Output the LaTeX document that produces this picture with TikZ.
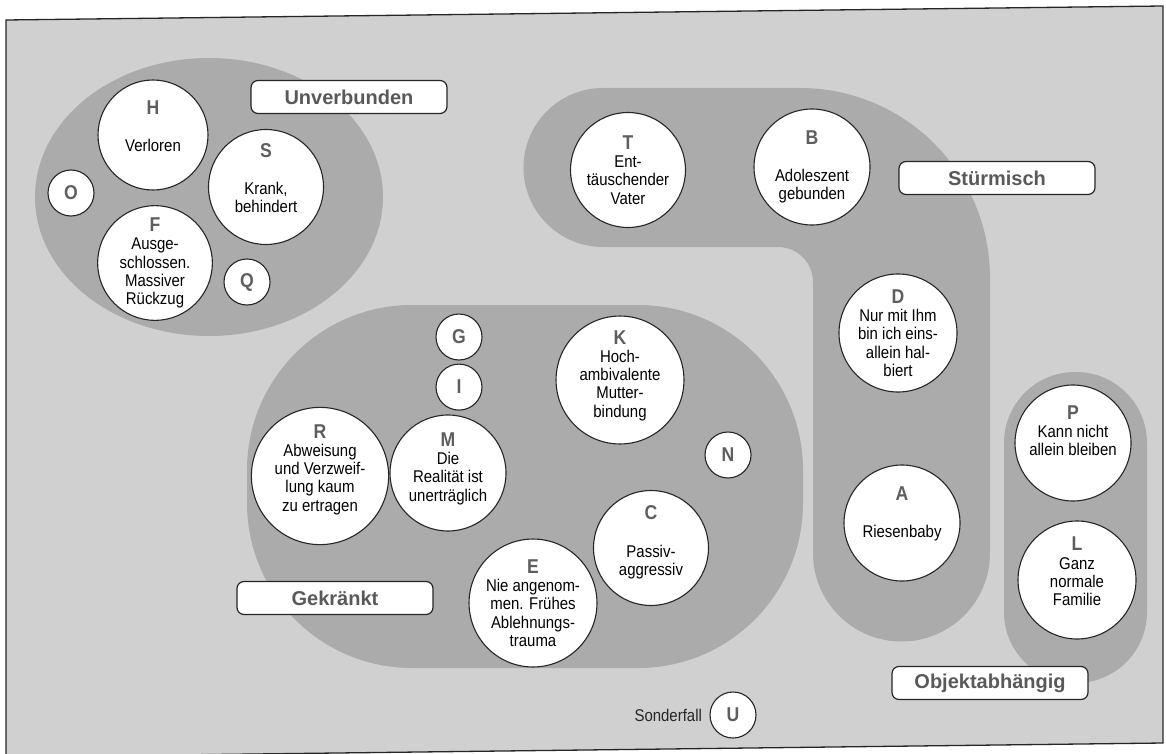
\documentclass[tikz,border=0pt]{standalone}
\usepackage{fontspec}
\setmainfont{Liberation Sans}[FakeStretch=0.88]
\newfontfamily\tagfont{Liberation Sans}
\usepackage{xcolor}
\usetikzlibrary{positioning}
\definecolor{paper}{HTML}{D0D0D0}
\definecolor{blobgray}{HTML}{ABABAB}
\definecolor{ltrgray}{HTML}{5E5E5E}
\newcommand{\ltr}[1]{{\fontsize{20}{20}\selectfont\bfseries\color{ltrgray}#1}}
\newcommand{\pad}[1]{\\[#1]\mbox{}}

\begin{document}
\begin{tikzpicture}[
    x=1pt, y=-1pt,
    blob/.style={fill=blobgray},
    disc/.style={circle, draw=black!85, line width=1.1pt, fill=white, inner sep=0pt, align=center, minimum size=114pt, font=\fontsize{17}{18.3}\selectfont},
    smalldisc/.style={disc, minimum size=46pt},
    tag/.style={rectangle, rounded corners=7pt, draw=black!85, line width=1.2pt, fill=white, minimum width=196pt, minimum height=33pt, text=black!65, font=\tagfont\bfseries\fontsize{20}{21}\selectfont}
]
\useasboundingbox (0,0) rectangle (1166,754);
\fill[white] (0,0) rectangle (1166,754);

% Frame
\fill[paper] (6,20) -- (1163,6) -- (1163,743) -- (6,757) -- cycle;
\draw[line width=1.3pt, black!85] (6,20) -- (1163,6) -- (1163,743) -- (6,757) -- cycle;

% Groups
\fill[blob] (209,197) ellipse [x radius=174, y radius=139];
\fill[blob] (603,88) -- (800,88) arc[start angle=270, end angle=360, radius=190]
    -- (990,553) arc[start angle=0, end angle=180, radius=88.5]
    -- (813,282) arc[start angle=0, end angle=-90, radius=35]
    -- (603,247) arc[start angle=90, end angle=270, radius=79.5] -- cycle;
\fill[blob, rounded corners=165pt] (247,305) rectangle (803,668);
\fill[blob, rounded corners=71pt] (1004,372) rectangle (1147,683);

% Unverbunden
\node[disc, minimum size=110pt] (H) at (153,135) {\ltr{H}\\[19pt]Verloren\pad{0pt}};
\node[disc, minimum size=115pt] (S) at (266,187) {\ltr{S}\\[19pt]Krank,\\behindert\pad{0pt}};
\node[smalldisc] (O) at (71,193) {\ltr{O}};
\node[disc, minimum size=110pt] (F) at (155,263) {\ltr{F}\\Ausge-\\schlossen.\\Massiver\\Rückzug};
\node[smalldisc] (Q) at (247,282) {\ltr{Q}};

% Stuermisch
\node[disc, minimum size=115pt] (T) at (628,170) {\ltr{T}\\Ent-\\täuschender\\Vater};
\node[disc, minimum size=116pt] (B) at (812,167) {\ltr{B}\\[19pt]Adoleszent\\gebunden};
\node[disc] (D) at (898,333) {\ltr{D}\\Nur mit Ihm\\bin ich eins-\\allein hal-\\biert};
\node[disc, minimum size=116pt] (A) at (902,523) {\ltr{A}\\[19pt]Riesenbaby\pad{3.2pt}};

% Objektabhaengig
\node[disc, minimum size=116pt] (P) at (1073,443) {\ltr{P}\\Kann nicht\\allein bleiben\pad{6.7pt}};
\node[disc, minimum size=118pt] (L) at (1077,580) {\ltr{L}\\Ganz\\normale\\Familie\pad{-1.3pt}};

% Gekraenkt
\node[smalldisc] (G) at (459,337) {\ltr{G}};
\node[smalldisc, below=3pt of G] (I) {\ltr{I}};
\node[disc, minimum size=115pt] (R) at (320,476) {\ltr{R}\\Abweisung\\und Verzweif-\\lung kaum\\zu ertragen\pad{-1.8pt}};
\node[disc, minimum size=116pt] (M) at (448,473) {\ltr{M}\\Die\\Realität ist\\unerträglich\pad{-5.8pt}};
\node[disc] (K) at (620,380) {\ltr{K}\\Hoch-\\ambivalente\\Mutter-\\bindung\pad{-5.8pt}};
\node[smalldisc] (N) at (728,455) {\ltr{N}};
\node[disc, minimum size=115pt] (C) at (651,548) {\ltr{C}\\[19pt]Passiv-\\aggressiv\pad{-3.8pt}};
\node[disc, minimum size=110pt] (E) at (533,603) {\ltr{E}\\Nie angenom-\\men. Frühes\\Ablehnungs-\\trauma};

% Sonderfall
\node[smalldisc] (U) at (733,715) {\ltr{U}};
\node[left=4pt of U, font=\fontsize{17}{18}\selectfont, text=black!85] (sonderfall) {Sonderfall};

% Labels
\node[tag] (unverbunden) at (349,97) {Unverbunden};
\node[tag] (stuermisch) at (997,178) {Stürmisch};
\node[tag] (gekraenkt) at (335,598) {Gekränkt};
\node[tag] (objekt) at (990,683) {Objektabhängig};

\end{tikzpicture}
\end{document}
